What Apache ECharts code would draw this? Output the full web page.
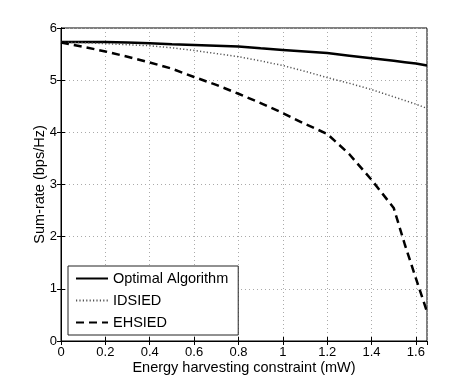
<!DOCTYPE html>
<html>
<head>
<meta charset="utf-8">
<script src="https://cdn.jsdelivr.net/npm/echarts@6/dist/echarts.min.js"></script>
<style>html,body{margin:0;padding:0;background:#fff}#c{width:472px;height:384px}</style>
</head>
<body>
<div id="c"></div>
<script>
const xValues = [0, 0.1, 0.2, 0.3, 0.4, 0.5, 0.6, 0.7, 0.8, 0.9, 1.0, 1.1, 1.2, 1.3, 1.4, 1.45, 1.5, 1.55, 1.6, 1.65];
const optimal = [5.73, 5.73, 5.73, 5.72, 5.71, 5.69, 5.675, 5.66, 5.645, 5.61, 5.58, 5.55, 5.52, 5.47, 5.42, 5.395, 5.37, 5.345, 5.32, 5.28];
const idsied  = [5.72, 5.72, 5.70, 5.68, 5.66, 5.62, 5.57, 5.51, 5.45, 5.37, 5.28, 5.17, 5.05, 4.94, 4.82, 4.75, 4.68, 4.61, 4.54, 4.46];
const ehsied  = [5.72, 5.64, 5.55, 5.45, 5.34, 5.22, 5.06, 4.91, 4.74, 4.56, 4.37, 4.16, 3.97, 3.58, 3.09, 2.82, 2.55, 1.85, 1.2, 0.56];
const seriesNames = ['Optimal Algorithm', 'IDSIED', 'EHSIED'];
const xTitle = 'Energy harvesting constraint (mW)';
const yTitle = 'Sum-rate (bps/Hz)';

const FONT = 'Liberation Sans';
const pair = arr => xValues.map((x, i) => [x, arr[i]]);
const chart = echarts.init(document.getElementById('c'), null, {renderer: 'canvas'});
const gridLine = {show: true, lineStyle: {color: '#aaa', type: [1, 3], width: 1}};
const tick = {show: true, inside: true, length: 4, lineStyle: {color: '#000'}};
chart.setOption({
  animation: false,
  backgroundColor: '#fff',
  textStyle: {fontFamily: FONT},
  grid: {left: 61, right: 45, top: 28, bottom: 43, show: true, borderColor: '#000', borderWidth: 1},
  legend: {
    orient: 'vertical', left: 68, top: 266,
    data: seriesNames,
    backgroundColor: '#fff', borderColor: '#222', borderWidth: 1,
    padding: [5, 10, 5, 7],
    itemWidth: 32, itemHeight: 14, itemGap: 7,
    itemStyle: {opacity: 0},
    textStyle: {fontFamily: FONT, fontSize: 14.5, color: '#000'}
  },
  xAxis: [{
    type: 'value', min: 0, max: 1.65, interval: 0.2, position: 'bottom',
    name: xTitle, nameLocation: 'middle', nameGap: 19, nameMoveOverlap: false,
    nameTextStyle: {fontFamily: FONT, fontSize: 14.5, color: '#000'},
    axisLine: {show: true, lineStyle: {color: '#000'}},
    axisTick: tick,
    axisLabel: {fontFamily: FONT, fontSize: 13, color: '#000', margin: 5, showMaxLabel: false},
    splitLine: gridLine
  }, {
    type: 'value', min: 0, max: 1.65, interval: 0.2, position: 'top',
    axisLine: {show: true, lineStyle: {color: '#000'}},
    axisTick: tick, axisLabel: {show: false}, splitLine: {show: false}
  }],
  yAxis: [{
    type: 'value', min: 0, max: 6, interval: 1, position: 'left',
    name: yTitle, nameLocation: 'middle', nameGap: 14, nameRotate: 90, nameMoveOverlap: false,
    nameTextStyle: {fontFamily: FONT, fontSize: 14.5, color: '#000'},
    axisLine: {show: true, lineStyle: {color: '#000'}},
    axisTick: tick,
    axisLabel: {fontFamily: FONT, fontSize: 13, color: '#000', margin: 4},
    splitLine: gridLine
  }, {
    type: 'value', min: 0, max: 6, interval: 1, position: 'right',
    axisLine: {show: true, lineStyle: {color: '#000'}},
    axisTick: tick, axisLabel: {show: false}, splitLine: {show: false}
  }],
  series: [{
    name: seriesNames[0], type: 'line', data: pair(optimal), symbol: 'none', smooth: false,
    lineStyle: {color: '#000', width: 2.5, type: 'solid'}, itemStyle: {color: '#000'}
  }, {
    name: seriesNames[1], type: 'line', data: pair(idsied), symbol: 'none',
    lineStyle: {color: '#555', width: 1.5, type: [1.2, 2.2]}, itemStyle: {color: '#555'}
  }, {
    name: seriesNames[2], type: 'line', data: pair(ehsied), symbol: 'none',
    lineStyle: {color: '#000', width: 2.5, type: [8, 5]}, itemStyle: {color: '#000'}
  }]
});
</script>
</body>
</html>
